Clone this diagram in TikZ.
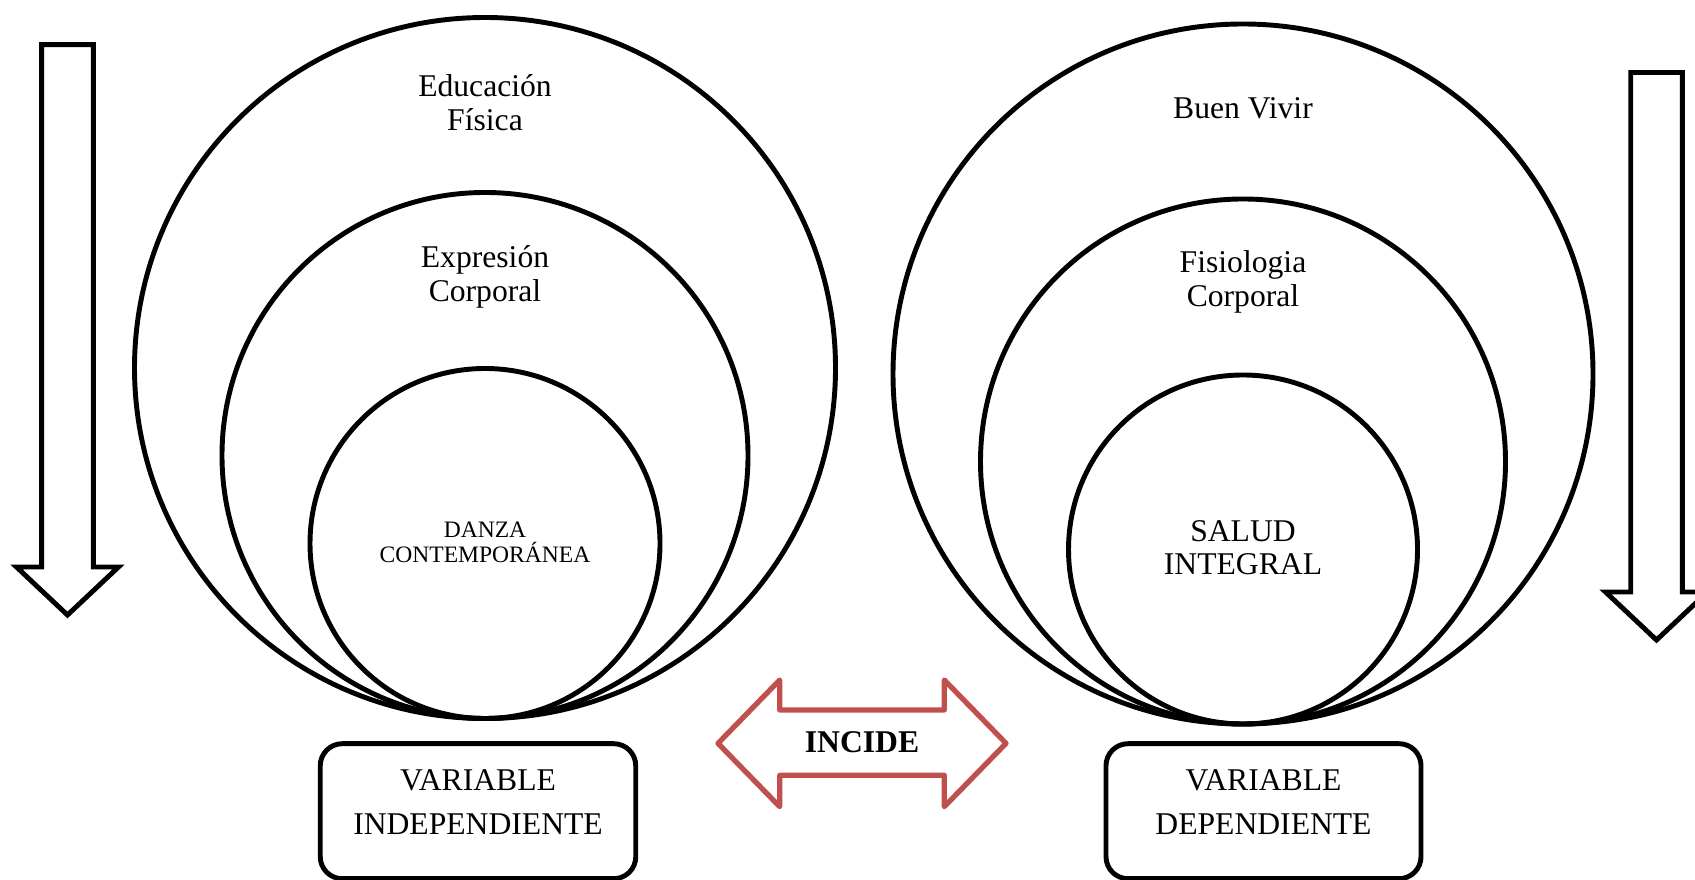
\documentclass[tikz,border=0pt]{standalone}
\usepackage{fontspec}
\setmainfont{Liberation Serif}
\definecolor{InkColor}{RGB}{0,0,0}
\definecolor{IncideColor}{RGB}{192,80,77}
\usepackage{tikz}
\tikzstyle{ring} = [circle, draw=InkColor, line width=2.8pt, inner sep=0pt]
\tikzstyle{ringtext} = [align=center, inner sep=0pt, font=\fontsize{18}{19.3}\selectfont]
\tikzstyle{smalltext} = [align=center, inner sep=0pt, font=\fontsize{13.4}{13.9}\selectfont]
\tikzstyle{varbox} = [draw=InkColor, rounded corners=0.44cm, line width=2.8pt, minimum width=6.31cm, minimum height=2.7cm]
\tikzstyle{boxtext} = [align=center, inner sep=0pt, font=\fontsize{18}{24.8}\selectfont]
\tikzstyle{downarrow} = [line width=2.8pt, InkColor, line join=miter]
\tikzstyle{incide} = [line width=3pt, IncideColor, line join=round]

\begin{document}
\begin{tikzpicture}
                \useasboundingbox (0,0) rectangle (33.9,17.58);
                \clip (0,0) rectangle (33.9,17.58);

                % Left circles
                \node[ring, minimum size=14.02cm] (edu) at (9.7,10.22) {};
                \node[ring, minimum size=10.52cm] (expr) at (9.7,8.47) {};
                \node[ring, minimum size=7cm] (danza) at (9.7,6.71) {};
                \node[ringtext] (edutxt) at (9.7,15.526) {Educación\\Física};
                \node[ringtext] (exprtxt) at (9.7,12.05) {Expresión\\Corporal};
                \node[smalltext] (danzatxt) at (9.7,6.734) {DANZA\\CONTEMPORÁNEA};

                % Right circles
                \node[ring, minimum size=14cm] (buen) at (24.86,10.10) {};
                \node[ring, minimum size=10.5cm] (fisio) at (24.86,8.35) {};
                \node[ring, minimum size=6.98cm] (salud) at (24.86,6.59) {};
                \node[ringtext] (buentxt) at (24.86,15.42) {Buen Vivir};
                \node[ringtext] (fisiotxt) at (24.86,11.94) {Fisiologia\\Corporal};
                \node[ringtext, font=\fontsize{18}{18.8}\selectfont] (saludtxt) at (24.86,6.618) {SALUD\\INTEGRAL};

                % Variable boxes
                \node[varbox] (indep) at (9.56,1.356) {};
                \node[boxtext] (indeptxt) at (9.56,1.535) {VARIABLE\\INDEPENDIENTE};
                \node[varbox, minimum width=6.3cm] (dep) at (25.27,1.356) {};
                \node[boxtext] (deptxt) at (25.27,1.535) {VARIABLE\\DEPENDIENTE};

                % Double arrow
                \draw[incide] (14.36,2.713) -- (15.594,3.98) -- (15.594,3.38) -- (18.886,3.38)
                    -- (18.886,3.98) -- (20.12,2.713) -- (18.886,1.446) -- (18.886,2.074)
                    -- (15.594,2.074) -- (15.594,1.446) -- cycle;
                \node[font=\fontsize{18}{18}\selectfont\bfseries] (incidetxt) at (17.24,2.74) {INCIDE};

                % Block arrows
                \draw[downarrow] (0.834,16.688) -- (1.866,16.688) -- (1.866,6.24) -- (2.37,6.24)
                    -- (1.35,5.28) -- (0.33,6.24) -- (0.834,6.24) -- cycle;
                \draw[downarrow] (32.614,16.13) -- (33.646,16.13) -- (33.646,5.74) -- (34.15,5.74)
                    -- (33.13,4.78) -- (32.11,5.74) -- (32.614,5.74) -- cycle;
            \end{tikzpicture}
\end{document}
